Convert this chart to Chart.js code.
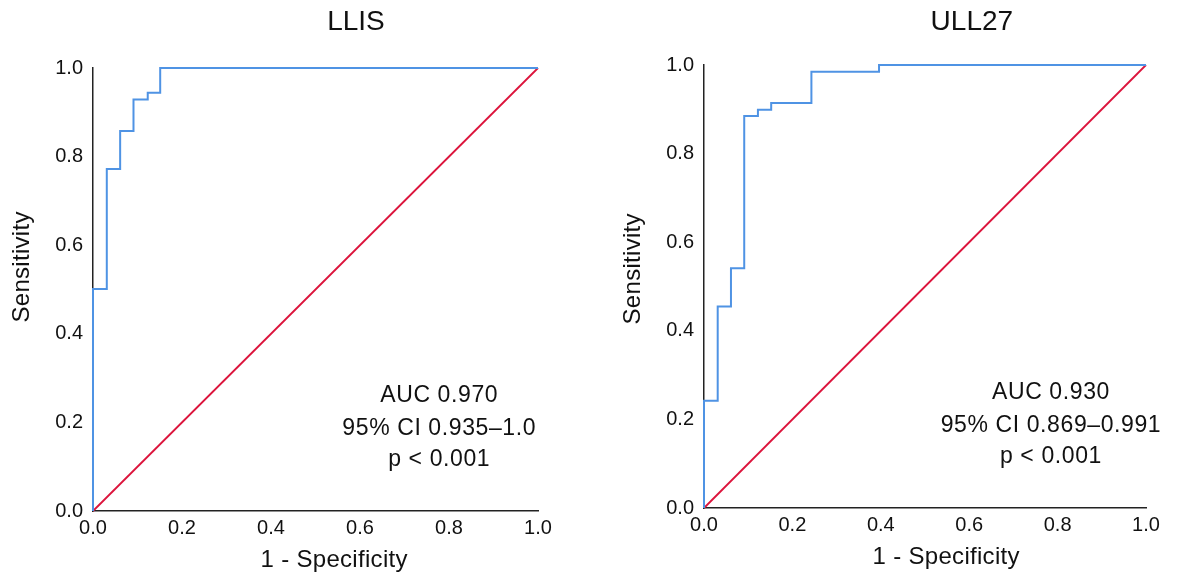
<!DOCTYPE html>
<html>
<head>
<meta charset="utf-8">
<title>ROC curves – LLIS / ULL27</title>
<script src="https://cdn.jsdelivr.net/npm/chart.js@4.4.1/dist/chart.umd.min.js"></script>
<style>
  html, body { margin: 0; padding: 0; background: #fff; overflow: hidden; }
  #wrap { position: relative; width: 1183px; height: 585px; }
  canvas { position: absolute; top: 0; }
  #rocLeft { left: 0; }
  #rocRight { left: 593px; }
</style>
</head>
<body>
<div id="wrap">
  <canvas id="rocLeft" width="590" height="585"></canvas>
  <canvas id="rocRight" width="590" height="585"></canvas>
</div>
<script>
// ── Data ──
const tickValues = [0, 0.2, 0.4, 0.6, 0.8, 1.0];
const tickLabels = ['0.0', '0.2', '0.4', '0.6', '0.8', '1.0'];

const xTitle = '1 - Specificity';
const yTitle = 'Sensitivity';

// LLIS ROC (1 - specificity, sensitivity)
const llisFpr = [0, 0, 0.031, 0.061, 0.091, 0.123, 0.151, 1.0];
const llisTpr = [0, 0.501, 0.772, 0.858, 0.929, 0.944, 1.0, 1.0];
const llisNote = ['AUC 0.970', '95% CI 0.935–1.0', 'p < 0.001'];

// ULL27 ROC
const ullFpr = [0, 0, 0.031, 0.061, 0.091, 0.122, 0.152, 0.243, 0.396, 1.0];
const ullTpr = [0, 0.242, 0.455, 0.541, 0.885, 0.899, 0.914, 0.985, 1.0, 1.0];
const ullNote = ['AUC 0.930', '95% CI 0.869–0.991', 'p < 0.001'];

// reference (chance) line
const chanceX = [0, 1];
const chanceY = [0, 1];

// ── Styling ──
const FONT = "'Liberation Sans', Arial, Helvetica, sans-serif";
const BLUE = '#4f93e4';
const RED = '#dc143c';
const INK = '#111';

const toPoints = (xs, ys) => xs.map((v, i) => ({ x: v, y: ys[i] }));

// ── Text plugin: heading, axis titles, AUC note ──
const panelText = {
    id: 'panelText',
    afterDraw(chart, args, opts) {
        const { ctx, scales: { x, y } } = chart;
        ctx.save();
        ctx.fillStyle = INK;
        ctx.textAlign = 'center';
        ctx.textBaseline = 'middle';

        ctx.font = '28px ' + FONT;
        ctx.fillText(opts.heading, x.getPixelForValue(opts.headingAt), opts.headingY);

        ctx.font = '24px ' + FONT;
        ctx.letterSpacing = '0.3px';
        ctx.fillText(xTitle, x.getPixelForValue(opts.xTitleAt), x.bottom - 25);
        ctx.save();
        ctx.translate(y.left + 22, y.getPixelForValue(opts.yTitleAt));
        ctx.rotate(-Math.PI / 2);
        ctx.fillText(yTitle, 0, 0);
        ctx.restore();

        ctx.font = '23px ' + FONT;
        ctx.letterSpacing = '0.6px';
        opts.note.forEach((line, i) => {
            ctx.fillText(line, x.getPixelForValue(opts.noteX), y.getPixelForValue(opts.noteY[i]));
        });
        ctx.restore();
    }
};

function axis(extra) {
    return Object.assign({
        type: 'linear',
        min: 0,
        max: 1,
        grid: { display: false, drawTicks: false },
        border: { display: true, color: '#222', width: 1.5 },
        afterBuildTicks: s => { s.ticks = tickValues.map(v => ({ value: v })); }
    }, extra);
}

function rocChart(canvasId, fpr, tpr, padding, text) {
    return new Chart(document.getElementById(canvasId), {
        type: 'scatter',
        data: {
            datasets: [
                {
                    data: toPoints(fpr, tpr),
                    showLine: true,
                    stepped: 'before',   // horizontal first, then up
                    borderColor: BLUE,
                    borderWidth: 2,
                    pointRadius: 0,
                    clip: false
                },
                {
                    data: toPoints(chanceX, chanceY),
                    showLine: true,
                    borderColor: RED,
                    borderWidth: 1.8,
                    pointRadius: 0,
                    clip: false
                }
            ]
        },
        options: {
            responsive: false,
            animation: false,
            layout: { padding },
            plugins: {
                legend: { display: false },
                tooltip: { enabled: false },
                panelText: text
            },
            scales: {
                x: axis({
                    ticks: { color: INK, font: { family: FONT, size: 20 }, padding: 5,
                             maxRotation: 0, callback: (v, i) => tickLabels[i] },
                    afterFit: s => { s.height = 74; }
                }),
                y: axis({
                    ticks: { color: INK, font: { family: FONT, size: 20 }, padding: 10,
                             callback: (v, i) => tickLabels[i] },
                    afterFit: s => { s.width = 93; }
                })
            }
        },
        plugins: [panelText]
    });
}

rocChart('rocLeft', llisFpr, llisTpr,
    { left: 0, right: 52, top: 68, bottom: 0 },
    { heading: 'LLIS', headingAt: 0.591, headingY: 22, xTitleAt: 0.542, yTitleAt: 0.551,
      note: llisNote, noteX: 0.778, noteY: [0.26, 0.187, 0.115] });

rocChart('rocRight', ullFpr, ullTpr,
    { left: 18, right: 37, top: 65, bottom: 3 },
    { heading: 'ULL27', headingAt: 0.606, headingY: 22, xTitleAt: 0.548, yTitleAt: 0.54,
      note: ullNote, noteX: 0.785, noteY: [0.26, 0.187, 0.115] });
</script>
</body>
</html>
